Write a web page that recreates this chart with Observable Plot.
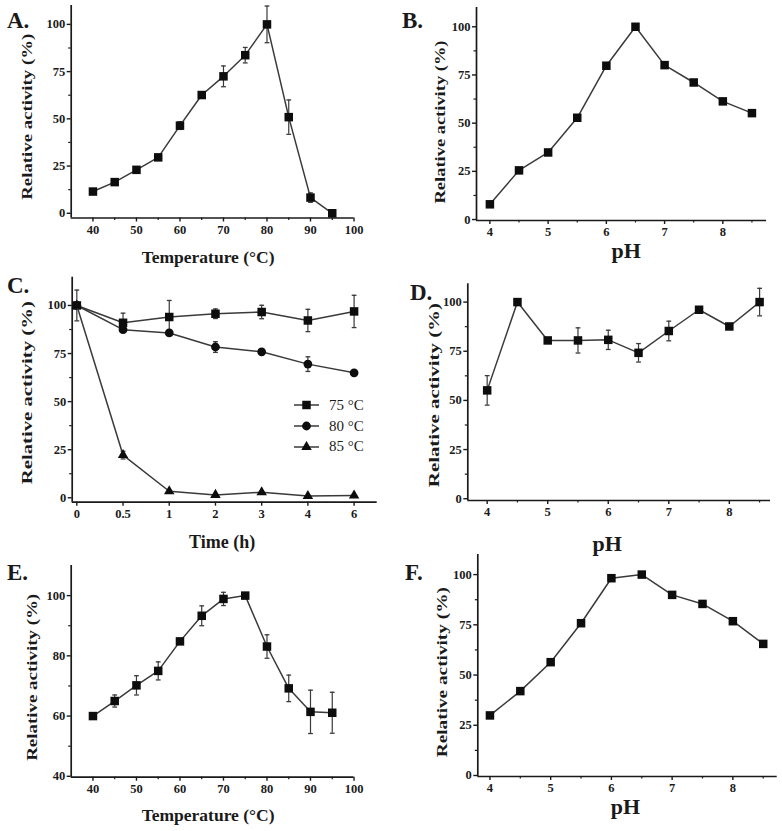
<!DOCTYPE html>
<html><head><meta charset="utf-8">
<script src="https://cdn.jsdelivr.net/npm/d3@7"></script>
<script src="https://cdn.jsdelivr.net/npm/@observablehq/plot@0.6"></script>
<style>
body{margin:0;background:#fff;}
#fig{position:relative;width:782px;height:831px;overflow:hidden;background:#fff;font-family:"Liberation Serif","Times New Roman",serif;color:#1a1a1a;}
#fig svg{position:absolute;}
.letter{position:absolute;font-size:23px;font-weight:bold;line-height:1;font-family:"Liberation Serif",serif;}
.legend{position:absolute;font-size:15px;line-height:1;font-family:"Liberation Serif",serif;}
.legend div{display:flex;align-items:center;height:20.8px;}
.legend svg{position:static !important;margin-right:10px;}
</style></head><body><div id="fig"></div>
<script>
// ---------- data ----------
const temperature = [40,45,50,55,60,65,70,75,80,85,90,95];
const pH = [4,4.5,5,5.5,6,6.5,7,7.5,8,8.5];
const timeLabels = ["0","0.5","1","2","3","4","6"];

// A: temperature optimum
const actA = [11.5,16.5,23,29.6,46.4,62.6,72.5,83.7,100,50.9,8.3,0];
const errA = [1,1,1.2,1,2,1,5.5,4.1,9.7,9.1,2.5,1];
// B: pH optimum
const actB = [7.9,25.5,34.8,52.8,79.8,100,80.1,71.1,61.3,55.2];
const errB = [1,1,1,1,1,0.5,1,1,1,1];
// C: thermostability
const act75 = [100,91,94,95.7,96.6,92.2,96.9];
const err75 = [8,5,8.6,2.5,3.5,5.8,8.4];
const act80 = [100,87.4,85.7,78.4,75.9,69.5,65];
const err80 = [1,1,1,2.8,1,3.8,1];
const act85 = [100,22.2,3.4,1.5,2.9,0.9,1.2];
const err85 = [1,2,1.5,1,1,1,1];
const legendLabels = ["75 °C","80 °C","85 °C"];
// D: pH stability
const actD = [55.1,100,80.5,80.5,80.8,74.2,85.3,96.1,87.6,100];
const errD = [7.5,0.8,1,6.4,4.9,4.7,5,1,1,7];
// E: temperature optimum (second enzyme)
const actE = [60,65,70.2,75,84.8,93.3,98.9,100,83.1,69.2,61.4,61.1];
const errE = [0.8,2,3.2,3,0.8,3.3,2.2,0.5,3.9,4.4,7.2,6.8];
// F: pH optimum (second enzyme)
const actF = [29.9,42,56.4,75.8,98.2,100,89.9,85.4,76.8,65.5];
const errF = [0.8,1.5,1,1,1,0.5,1,1,1,1];

// tick values
const tempTicks = [40,50,60,70,80,90,100];
const tempMinor = [45,55,65,75,85,95];
const pHTicks = [4,5,6,7,8];
const pHMinor = [4.5,5.5,6.5,7.5,8.5];
const pctTicks = [0,25,50,75,100];
const pctMinor = [12.5,37.5,62.5,87.5];
const eTicks = [40,60,80,100];
const eMinor = [50,70,90];

const yTitle = "Relative activity (%)";
const ink = "#1a1a1a";
const lineInk = "#3a3a3a";
const cap = {draw(ctx, size){ const w = Math.sqrt(size)/2; ctx.moveTo(-w,0); ctx.lineTo(w,0); }};

const rows = (xs, ys, es) => xs.map((x,i) => ({x, y: ys[i], e: es[i]}));

function panel(c){
  const marks = [
    Plot.ruleX([c.xDomain[0]], {stroke: ink, strokeWidth: 1.7}),
    Plot.ruleY([c.yDomain[0]], {stroke: ink, strokeWidth: 1.7}),
    Plot.axisX(c.xTicks, {tickSize: 4, tickPadding: 3, strokeWidth: 1.4, stroke: ink, fill: ink, fontSize: 12.5, fontWeight: "bold", tickFormat: c.xFormat || (d => String(d)), label: null}),
    Plot.axisY(c.yTicks, {tickSize: 4, tickPadding: 2, strokeWidth: 1.4, stroke: ink, fill: ink, fontSize: 12.5, fontWeight: "bold", label: null}),
  ];
  if (c.xMinor) marks.push(Plot.axisX(c.xMinor, {tickSize: 2.5, strokeWidth: 1.2, stroke: ink, tickFormat: () => "", label: null}));
  if (c.yMinor) marks.push(Plot.axisY(c.yMinor, {tickSize: 2.5, strokeWidth: 1.2, stroke: ink, tickFormat: () => "", label: null}));
  for (const s of c.series) {
    marks.push(Plot.line(s.data, {x: "x", y: "y", stroke: lineInk, strokeWidth: 1.5}));
    const eb = s.data.filter(d => d.e > 1.5);
    marks.push(Plot.ruleX(eb, {x: "x", y1: d => d.y - d.e, y2: d => d.y + d.e, stroke: lineInk, strokeWidth: 1.2}));
    marks.push(Plot.dot(eb, {x: "x", y: d => d.y + d.e, symbol: cap, r: 2.7, stroke: lineInk, strokeWidth: 1.3, fill: "none"}));
    marks.push(Plot.dot(eb, {x: "x", y: d => d.y - d.e, symbol: cap, r: 2.7, stroke: lineInk, strokeWidth: 1.3, fill: "none"}));
    marks.push(Plot.dot(s.data, {x: "x", y: "y", symbol: s.symbol, r: s.r, fill: "#0d0d0d", stroke: "none"}));
  }
  marks.push(Plot.text([c.xLabel], {text: d => d, frameAnchor: "bottom", dx: c.xdx, dy: c.xdy, fontSize: c.xFont, fontWeight: "bold", fill: ink, lineAnchor: "middle"}));
  // rotated y title: anchored at its start (bottom end), stretched to the reference length
  marks.push(Plot.text([yTitle], {text: d => d, frameAnchor: "left", rotate: -90, textAnchor: "start", dx: c.ydx, dy: c.ydy + c.yLen / 2, fontSize: 15, fontWeight: "bold", fill: ink, lineAnchor: "middle"}));
  const svg = Plot.plot({
    width: c.W, height: c.H,
    marginLeft: c.mL, marginRight: c.mR, marginTop: c.mT, marginBottom: c.mB,
    x: {domain: c.xDomain},
    y: {domain: c.yDomain},
    style: {fontFamily: "'Liberation Serif', 'Times New Roman', serif", background: "transparent", overflow: "visible", color: ink},
    marks
  });
  svg.style.left = c.left + "px";
  svg.style.top = c.top + "px";
  d3.select(svg).selectAll("text").filter(function(){ return this.textContent === yTitle; })
    .attr("textLength", c.yLen).attr("lengthAdjust", "spacingAndGlyphs");
  document.getElementById("fig").appendChild(svg);
}

const sq = "square";
panel({left: 0, top: 0, W: 391, H: 270, mL: 70.7, mR: 37.5, mT: 5, mB: 52.5,
  xDomain: [35,100], yDomain: [-2.5,110], xTicks: tempTicks, xMinor: tempMinor, yTicks: pctTicks, yMinor: pctMinor,
  series: [{data: rows(temperature, actA, errA), symbol: sq, r: 4.8}],
  xLabel: "Temperature (°C)", xdx: -4.5, xdy: 39, xFont: 17.5, ydx: -44, ydy: 5, yLen: 166});

panel({left: 390, top: 0, W: 392, H: 270, mL: 86, mR: 16, mT: 7, mB: 50,
  xDomain: [3.77,8.75], yDomain: [-0.5,110], xTicks: pHTicks, xMinor: pHMinor, yTicks: pctTicks, yMinor: pctMinor,
  series: [{data: rows(pH, actB, errB), symbol: sq, r: 4.8}],
  xLabel: "pH", xdx: 4.7, xdy: 30, xFont: 22, ydx: -36, ydy: 8, yLen: 163});

panel({left: 0, top: 270, W: 391, H: 275, mL: 71.7, mR: 14.3, mT: 6.7, mB: 43.3,
  xDomain: [-0.1,6.5], yDomain: [-2.3,114.7], xTicks: d3.range(timeLabels.length), xFormat: i => timeLabels[i], yTicks: pctTicks, yMinor: pctMinor,
  series: [
    {data: rows(d3.range(7), act75, err75), symbol: sq, r: 4.8},
    {data: rows(d3.range(7), act80, err80), symbol: "circle", r: 4.4},
    {data: rows(d3.range(7), act85, err85), symbol: "triangle", r: 3.9}
  ],
  xLabel: "Time (h)", xdx: -2.5, xdy: 40, xFont: 18, ydx: -45, ydy: 3, yLen: 183});

panel({left: 390, top: 270, W: 392, H: 275, mL: 77.3, mR: 12, mT: 13.3, mB: 45,
  xDomain: [3.68,8.68], yDomain: [-0.9,109.3], xTicks: pHTicks, xMinor: pHMinor, yTicks: pctTicks, yMinor: pctMinor,
  series: [{data: rows(pH, actD, errD), symbol: sq, r: 4.8}],
  xLabel: "pH", xdx: -12, xdy: 43, xFont: 22, ydx: -34, ydy: 3, yLen: 184});

panel({left: 0, top: 550, W: 391, H: 281, mL: 70.7, mR: 37.5, mT: 15, mB: 54.3,
  xDomain: [35,100], yDomain: [39.7,110], xTicks: tempTicks, xMinor: tempMinor, yTicks: eTicks, yMinor: eMinor,
  series: [{data: rows(temperature, actE, errE), symbol: sq, r: 4.8}],
  xLabel: "Temperature (°C)", xdx: -4.5, xdy: 38.3, xFont: 17.5, ydx: -39, ydy: 6, yLen: 167});

panel({left: 390, top: 550, W: 392, H: 281, mL: 87.3, mR: 5.3, mT: 4, mB: 55,
  xDomain: [3.8,8.73], yDomain: [-0.5,110], xTicks: pHTicks, xMinor: pHMinor, yTicks: pctTicks, yMinor: pctMinor,
  series: [{data: rows(pH, actF, errF), symbol: sq, r: 4.8}],
  xLabel: "pH", xdx: -2, xdy: 30.7, xFont: 22, ydx: -35.6, ydy: 6.7, yLen: 170});

// panel letters
const fig = document.getElementById("fig");
[["A.",7,9],["B.",402,9],["C.",7,274],["D.",410,281],["E.",7,561],["F.",405,561]].forEach(([t,x,y]) => {
  const d = document.createElement("div"); d.className = "letter"; d.textContent = t;
  d.style.left = x + "px"; d.style.top = y + "px"; fig.appendChild(d);
});

// legend for panel C
const legendSymbols = ["square","circle","triangle"];
const lg = document.createElement("div"); lg.className = "legend";
lg.style.left = "294px"; lg.style.top = "395px";
legendLabels.forEach((lab, i) => {
  const row = document.createElement("div");
  const sym = d3.symbol(d3["symbol" + legendSymbols[i][0].toUpperCase() + legendSymbols[i].slice(1)], [72, 61, 48][i])();
  row.innerHTML = `<svg width="25" height="12"><line x1="0" y1="6" x2="25" y2="6" stroke="${lineInk}" stroke-width="1.5"/><path d="${sym}" transform="translate(12.5,6)" fill="#0d0d0d"/></svg><span>${lab}</span>`;
  lg.appendChild(row);
});
fig.appendChild(lg);
</script></body></html>
